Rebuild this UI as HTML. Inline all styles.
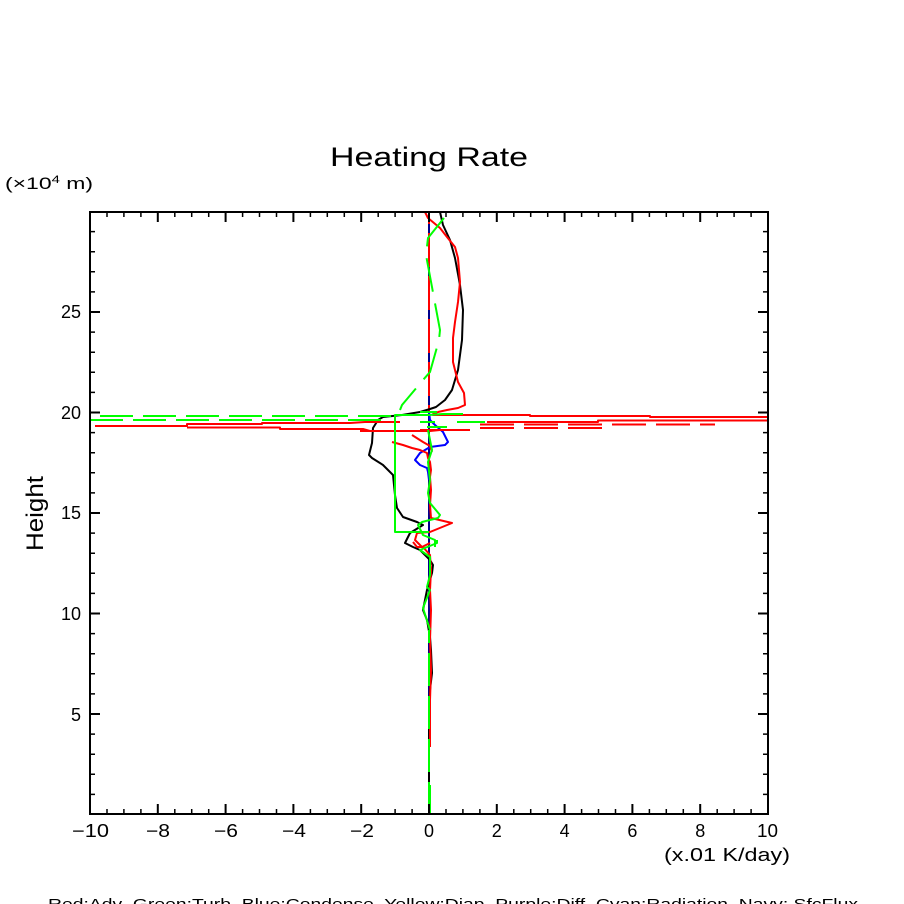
<!DOCTYPE html>
<html><head><meta charset="utf-8"><style>
html,body{margin:0;padding:0;background:#fff;}
svg{display:block;}
text{font-family:"Liberation Sans",sans-serif;fill:#000;}
</style></head><body>
<svg width="904" height="904" viewBox="0 0 904 904" xmlns="http://www.w3.org/2000/svg">
<rect width="904" height="904" fill="#fff"/>
<!-- title -->
<text x="330" y="166" font-size="27" textLength="198" lengthAdjust="spacingAndGlyphs">Heating Rate</text>
<text x="5" y="189" font-size="17" textLength="88" lengthAdjust="spacingAndGlyphs">(×10<tspan font-size="11" dy="-6">4</tspan><tspan dy="6"> m)</tspan></text>
<text transform="translate(43,551) rotate(-90)" font-size="24" textLength="75" lengthAdjust="spacingAndGlyphs">Height</text>

<!-- series -->
<g fill="none" stroke-width="2" stroke-linejoin="round" stroke-linecap="butt">
<line x1="429" y1="212" x2="429" y2="814" stroke="#00008b"/>
<line x1="429" y1="212" x2="429" y2="412" stroke="#ff0000" stroke-dasharray="34 9" stroke-dashoffset="22"/>
<polyline stroke="#0000ff" points="429,412 430,420 435,425 443,432 448,442 445,445 430,447 420,453 415,460 420,465 427,468 428,472 429,480"/>
<polyline stroke="#000" points="440,212 443,225 450,240 455,258 460,285 463,310 462,340 458,370 452,390 445,400 436,407 430,409 420,412 402,415 383,417 378,420 373,428 372,443 369,455 372,458 383,465 393,475 395,495 397,508 403,517 417,522 423,525 410,533 405,543 413,547 420,550 430,560 433,565 432,573 427,590 425,600 423,610 427,620 430,637 431,650 432,673 430,690 429,720 429,814"/>
<polyline stroke="#ff0000" points="425,212 428,218 440,228 447,237 455,247 458,258 460,282 458,302 455,322 453,338 453,362 458,382 464,393 465,405 458,408 447,410 438,412 433,414 433,415 530,415 530,416 650,416 650,417 768,417"/>
<polyline stroke="#ff0000" points="487,422 598,422 598,420.5 768,420.5"/>
<polyline stroke="#ff0000" points="95,426 187,426 187,424 262,424 262,423 350,423 365,422 400,422"/>
<polyline stroke="#ff0000" points="187,427.5 280,427.5 280,429 363,429 370,431"/>
<polyline stroke="#ff0000" points="360,431 430,431 440,430 470,430"/>
<line x1="480" y1="424.5" x2="715" y2="424.5" stroke="#ff0000" stroke-dasharray="34 10"/>
<line x1="480" y1="428" x2="602" y2="428" stroke="#ff0000" stroke-dasharray="34 10"/>
<line x1="420" y1="430" x2="462" y2="430" stroke="#ff0000"/>
<polyline stroke="#ff0000" points="392,442 403,445 412,448 420,450 427,453 428,458 430,462 431,470 430,477 431,490 430,505 431,518 452,523 430,532 417,533 415,540 422,547 430,543"/>
<polyline stroke="#ff0000" points="412,435 423,442 430,446 432,452"/>
<polyline stroke="#ff0000" points="413,542 417,547 423,547 430,555 431,570 430,590 431,610 430,640 431,670 430,700 430,747"/>
<line x1="100" y1="416" x2="400" y2="416" stroke="#00ff00" stroke-dasharray="33 10"/>
<line x1="90" y1="420" x2="385" y2="420" stroke="#00ff00" stroke-dasharray="33 10"/>
<polyline stroke="#00ff00" stroke-dasharray="34 12" points="444,218 428,238 426,255 432,287 434,298 440,330 439,340 430,372 423,380 402,405 400,410"/>
<polyline stroke="#00ff00" points="463,414 443,414 429,415 395,415 395,532 429,532"/>
<polyline stroke="#00ff00" points="420,412 437,412"/>
<polyline stroke="#00ff00" points="420,422 435,422"/>
<polyline stroke="#00ff00" points="457,422 485,422"/>
<polyline stroke="#00ff00" points="427,427 447,427"/>
<polyline stroke="#00ff00" points="428,430 432,450 428,462 430,480 428,493 430,503 440,515 438,518 422,522 418,525 423,535 435,540 435,547"/>
<polyline stroke="#00ff00" points="437,540 437,543 420,550 430,557 430,575 427,587 430,590 423,608 430,630"/>
<line x1="429" y1="630" x2="429" y2="814" stroke="#00ff00" stroke-dasharray="33 10" stroke-dashoffset="20"/>
<line x1="430" y1="785" x2="430" y2="814" stroke="#00ff00"/>
</g>

<rect x="90" y="212" width="678" height="602" fill="none" stroke="#000" stroke-width="2"/>
<path stroke="#000" stroke-width="2" fill="none" d="
M157.8 814v-10M225.6 814v-10M293.4 814v-10M361.2 814v-10M429 814v-10M496.8 814v-10M564.6 814v-10M632.4 814v-10M700.2 814v-10
M157.8 212v10M225.6 212v10M293.4 212v10M361.2 212v10M429 212v10M496.8 212v10M564.6 212v10M632.4 212v10M700.2 212v10
M90 714h10M90 613.5h10M90 513h10M90 412.5h10M90 312h10
M768 714h-10M768 613.5h-10M768 513h-10M768 412.5h-10M768 312h-10"/>
<path stroke="#000" stroke-width="1.5" fill="none" d="
M107 814v-5M123.9 814v-5M140.9 814v-5M174.8 814v-5M191.7 814v-5M208.7 814v-5M242.6 814v-5M259.5 814v-5M276.5 814v-5M310.4 814v-5M327.3 814v-5M344.3 814v-5M378.2 814v-5M395.1 814v-5M412.1 814v-5M446 814v-5M462.9 814v-5M479.9 814v-5M513.8 814v-5M530.7 814v-5M547.7 814v-5M581.6 814v-5M598.5 814v-5M615.5 814v-5M649.4 814v-5M666.3 814v-5M683.3 814v-5M717.2 814v-5M734.1 814v-5M751.1 814v-5
M107 212v5M123.9 212v5M140.9 212v5M174.8 212v5M191.7 212v5M208.7 212v5M242.6 212v5M259.5 212v5M276.5 212v5M310.4 212v5M327.3 212v5M344.3 212v5M378.2 212v5M395.1 212v5M412.1 212v5M446 212v5M462.9 212v5M479.9 212v5M513.8 212v5M530.7 212v5M547.7 212v5M581.6 212v5M598.5 212v5M615.5 212v5M649.4 212v5M666.3 212v5M683.3 212v5M717.2 212v5M734.1 212v5M751.1 212v5
M90 794.4h5M90 774.3h5M90 754.2h5M90 734.1h5M90 693.9h5M90 673.8h5M90 653.7h5M90 633.6h5M90 593.4h5M90 573.3h5M90 553.2h5M90 533.1h5M90 492.9h5M90 472.8h5M90 452.7h5M90 432.6h5M90 392.4h5M90 372.3h5M90 352.2h5M90 332.1h5M90 291.9h5M90 271.8h5M90 251.7h5M90 231.6h5
M768 794.4h-5M768 774.3h-5M768 754.2h-5M768 734.1h-5M768 693.9h-5M768 673.8h-5M768 653.7h-5M768 633.6h-5M768 593.4h-5M768 573.3h-5M768 553.2h-5M768 533.1h-5M768 492.9h-5M768 472.8h-5M768 452.7h-5M768 432.6h-5M768 392.4h-5M768 372.3h-5M768 352.2h-5M768 332.1h-5M768 291.9h-5M768 271.8h-5M768 251.7h-5M768 231.6h-5"/>

<g font-size="18">
<text x="72" y="837" textLength="37" lengthAdjust="spacingAndGlyphs">−10</text>
<text x="146" y="837" textLength="24" lengthAdjust="spacingAndGlyphs">−8</text>
<text x="214" y="837" textLength="24" lengthAdjust="spacingAndGlyphs">−6</text>
<text x="282" y="837" textLength="24" lengthAdjust="spacingAndGlyphs">−4</text>
<text x="350" y="837" textLength="24" lengthAdjust="spacingAndGlyphs">−2</text>
<text x="429" y="837" text-anchor="middle">0</text>
<text x="496.8" y="837" text-anchor="middle">2</text>
<text x="564.6" y="837" text-anchor="middle">4</text>
<text x="632.4" y="837" text-anchor="middle">6</text>
<text x="700.2" y="837" text-anchor="middle">8</text>
<text x="757" y="837" textLength="21" lengthAdjust="spacingAndGlyphs">10</text>
</g>
<g font-size="18" text-anchor="end">
<text x="81" y="721">5</text>
<text x="81" y="620">10</text>
<text x="81" y="519">15</text>
<text x="81" y="419">20</text>
<text x="81" y="318">25</text>
</g>
<text x="664" y="861" font-size="18" textLength="126" lengthAdjust="spacingAndGlyphs">(x.01 K/day)</text>
<text x="48" y="909" font-size="15" textLength="810" lengthAdjust="spacingAndGlyphs" xml:space="preserve">Red:Adv  Green:Turb  Blue:Condense  Yellow:Diap  Purple:Diff  Cyan:Radiation  Navy: SfcFlux</text>
</svg>
</body></html>
